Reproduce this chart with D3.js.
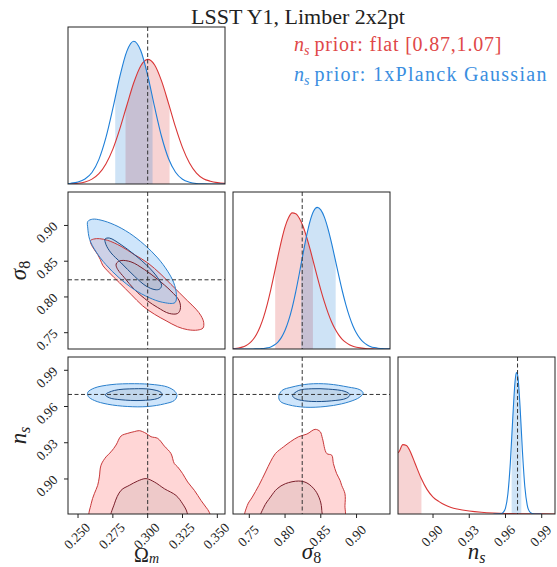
<!DOCTYPE html>
<html>
<head>
<meta charset="utf-8">
<script src="https://cdn.jsdelivr.net/npm/d3@7"></script>
<style>
  body { margin: 0; background: #fff; }
  text { font-family: "Liberation Serif", "DejaVu Serif", serif; fill: #222; }
</style>
</head>
<body>
<svg id="fig" width="557" height="567"></svg>
<script>
// ---- data ----
const omDomain = [0.2428, 0.3555];
const s8Domain = [0.7272, 0.9468];
const nsDomain = [0.871, 1.001];
const truthOm = 0.300, truthS8 = 0.824, truthNs = 0.970;

const omTicks = [0.250, 0.275, 0.300, 0.325, 0.350];
const s8Ticks = [0.75, 0.80, 0.85, 0.90];
const nsTicks = [0.90, 0.93, 0.96, 0.99];

// 1D marginals (arbitrary density units)
const omX = [0.240, 0.245, 0.250, 0.255, 0.260, 0.265, 0.270, 0.275, 0.280, 0.285, 0.290, 0.295,
             0.300, 0.305, 0.310, 0.315, 0.320, 0.325, 0.330, 0.335, 0.340, 0.345, 0.350, 0.355, 0.360];
const omRed = [0.001, 0.002, 0.005, 0.013, 0.031, 0.066, 0.128, 0.222, 0.351, 0.500, 0.645, 0.752,
               0.794, 0.758, 0.655, 0.512, 0.362, 0.232, 0.134, 0.070, 0.034, 0.018, 0.009, 0.004, 0.002];
const omBlue = [0.002, 0.005, 0.013, 0.032, 0.073, 0.157, 0.295, 0.481, 0.684, 0.845, 0.909, 0.850,
                0.692, 0.489, 0.301, 0.161, 0.075, 0.030, 0.011, 0.003, 0.001, 0, 0, 0, 0];
const omBandRed = [0.2841, 0.3157];
const omBandBlue = [0.2767, 0.3035];

const s8X = [0.725, 0.730, 0.735, 0.740, 0.745, 0.750, 0.755, 0.760, 0.765, 0.770, 0.775, 0.780,
             0.785, 0.790, 0.795, 0.800, 0.805, 0.810, 0.815, 0.820, 0.825, 0.830, 0.835, 0.840,
             0.845, 0.850, 0.855, 0.860, 0.865, 0.870, 0.875, 0.880, 0.885, 0.890, 0.895, 0.900,
             0.905, 0.910, 0.915, 0.920, 0.925, 0.930, 0.935, 0.940, 0.945, 0.950];
const s8Red = [0.002, 0.003, 0.006, 0.012, 0.021, 0.036, 0.059, 0.093, 0.140, 0.203, 0.283, 0.377,
               0.481, 0.589, 0.691, 0.778, 0.838, 0.867, 0.862, 0.833, 0.783, 0.715, 0.636, 0.549,
               0.461, 0.377, 0.300, 0.232, 0.174, 0.127, 0.090, 0.062, 0.042, 0.027, 0.017, 0.011,
               0.007, 0.004, 0.002, 0.001, 0, 0, 0, 0, 0, 0];
const s8Blue = [0, 0, 0, 0, 0, 0, 0, 0.001, 0.002, 0.003, 0.007, 0.013,
                0.025, 0.044, 0.074, 0.119, 0.182, 0.264, 0.366, 0.481, 0.603, 0.719, 0.815, 0.879,
                0.902, 0.886, 0.840, 0.767, 0.676, 0.574, 0.470, 0.371, 0.283, 0.208, 0.147, 0.100,
                0.066, 0.042, 0.026, 0.015, 0.009, 0.005, 0.003, 0.001, 0.001, 0];
const s8BandRed = [0.7862, 0.8390];
const s8BandBlue = [0.8226, 0.8708];

const nsXRed = [0.871, 0.872, 0.875, 0.878, 0.881, 0.885, 0.890, 0.895, 0.900, 0.905, 0.910,
                0.915, 0.920, 0.930, 0.940, 0.950, 0.960, 0.970, 0.980, 0.990, 1.001];
const nsRed = [0.390, 0.399, 0.442, 0.437, 0.400, 0.325, 0.231, 0.157, 0.108, 0.079, 0.057,
               0.042, 0.032, 0.019, 0.011, 0.006, 0.003, 0.002, 0.001, 0.0005, 0.0003];
const nsXBlue = [0.950, 0.956, 0.958, 0.960, 0.962, 0.964, 0.966, 0.968, 0.969, 0.970, 0.972,
                 0.974, 0.976, 0.978, 0.980, 0.982, 0.984, 0.990];
const nsBlue = [0, 0.001, 0.009, 0.038, 0.129, 0.324, 0.607, 0.850, 0.901, 0.888, 0.693,
                0.404, 0.175, 0.057, 0.014, 0.003, 0, 0];
const nsBandRed = [0.871, 0.8904];
const nsBandBlue = [0.9651, 0.9731];

// 2D contours [x, y]
const omS8BlueOuter = [[0.2570, 0.9056], [0.2605, 0.9088], [0.2665, 0.9074], [0.2761, 0.9009], [0.2868, 0.8894],
  [0.2976, 0.8731], [0.3072, 0.8546], [0.3143, 0.8361], [0.3187, 0.8199], [0.3206, 0.8037], [0.3196, 0.7921],
  [0.3105, 0.7926], [0.3010, 0.7991], [0.2902, 0.8106], [0.2794, 0.8269], [0.2699, 0.8454], [0.2627, 0.8639],
  [0.2584, 0.8801], [0.2570, 0.8963]];
const omS8BlueInner = [[0.2694, 0.8810], [0.2725, 0.8824], [0.2809, 0.8731], [0.2904, 0.8593], [0.3000, 0.8431],
  [0.3072, 0.8269], [0.3100, 0.8162], [0.3086, 0.8111], [0.3053, 0.8102], [0.2988, 0.8153], [0.2904, 0.8292],
  [0.2809, 0.8477], [0.2737, 0.8616], [0.2701, 0.8731]];
const omS8RedOuter = [[0.2589, 0.8787], [0.2613, 0.8810], [0.2653, 0.8815], [0.2713, 0.8792], [0.2809, 0.8708],
  [0.2904, 0.8593], [0.3000, 0.8477], [0.3096, 0.8315], [0.3167, 0.8176], [0.3227, 0.8060], [0.3287, 0.7944],
  [0.3347, 0.7829], [0.3383, 0.7736], [0.3402, 0.7644], [0.3397, 0.7565], [0.3359, 0.7537], [0.3287, 0.7542],
  [0.3215, 0.7583], [0.3132, 0.7667], [0.3048, 0.7759], [0.2964, 0.7875], [0.2880, 0.8037], [0.2797, 0.8199],
  [0.2725, 0.8338], [0.2677, 0.8444], [0.2660, 0.8523], [0.2641, 0.8593], [0.2617, 0.8662], [0.2598, 0.8722]];
const omS8RedInner = [[0.2778, 0.8477], [0.2809, 0.8509], [0.2880, 0.8491], [0.2976, 0.8384], [0.3072, 0.8245],
  [0.3167, 0.8083], [0.3227, 0.7944], [0.3234, 0.7829], [0.3215, 0.7769], [0.3155, 0.7769], [0.3072, 0.7852],
  [0.3000, 0.7944], [0.2904, 0.8106], [0.2833, 0.8269], [0.2785, 0.8384], [0.2773, 0.8444]];

const omNsBlueOuter = [[0.2570, 0.9717], [0.2617, 0.9753], [0.2737, 0.9781], [0.2904, 0.9789], [0.3048, 0.9781],
  [0.3143, 0.9761], [0.3196, 0.9725], [0.3210, 0.9689], [0.3191, 0.9650], [0.3120, 0.9622], [0.3000, 0.9600],
  [0.2857, 0.9600], [0.2713, 0.9619], [0.2617, 0.9650], [0.2574, 0.9683]];
const omNsBlueInner = [[0.2696, 0.9697], [0.2761, 0.9733], [0.2904, 0.9747], [0.3024, 0.9742], [0.3096, 0.9717],
  [0.3103, 0.9694], [0.3072, 0.9667], [0.2952, 0.9650], [0.2809, 0.9656], [0.2725, 0.9672]];
const omNsRedOuter = [[0.2589, 0.8660], [0.2594, 0.8794], [0.2617, 0.8878], [0.2641, 0.8947], [0.2653, 0.9017],
  [0.2665, 0.9114], [0.2701, 0.9183], [0.2737, 0.9225], [0.2773, 0.9281], [0.2809, 0.9356], [0.2857, 0.9378],
  [0.2904, 0.9392], [0.2940, 0.9400], [0.2988, 0.9378], [0.3024, 0.9350], [0.3072, 0.9336], [0.3120, 0.9272],
  [0.3167, 0.9211], [0.3191, 0.9128], [0.3215, 0.9100], [0.3251, 0.9044], [0.3287, 0.8975], [0.3335, 0.8906],
  [0.3383, 0.8822], [0.3418, 0.8767], [0.3442, 0.8725], [0.3450, 0.8660]];
const omNsRedInner = [[0.2742, 0.8660], [0.2761, 0.8794], [0.2809, 0.8906], [0.2868, 0.8947], [0.2928, 0.8983],
  [0.2988, 0.9003], [0.3048, 0.8975], [0.3120, 0.8919], [0.3203, 0.8864], [0.3251, 0.8794], [0.3282, 0.8725],
  [0.3282, 0.8660]];

const s8NsBlueOuter = [[0.7912, 0.9683], [0.7958, 0.9733], [0.8097, 0.9761], [0.8329, 0.9786], [0.8606, 0.9786],
  [0.8884, 0.9761], [0.9046, 0.9739], [0.9093, 0.9711], [0.9046, 0.9678], [0.8977, 0.9656], [0.8792, 0.9622],
  [0.8560, 0.9600], [0.8282, 0.9594], [0.8051, 0.9614], [0.7935, 0.9642]];
const s8NsBlueInner = [[0.8106, 0.9692], [0.8190, 0.9733], [0.8375, 0.9747], [0.8606, 0.9744], [0.8838, 0.9725],
  [0.8907, 0.9697], [0.8861, 0.9669], [0.8653, 0.9647], [0.8375, 0.9642], [0.8190, 0.9656], [0.8120, 0.9675]];
const s8NsRedOuter = [[0.7449, 0.8660], [0.7472, 0.8781], [0.7542, 0.8850], [0.7634, 0.8947], [0.7727, 0.9058],
  [0.7796, 0.9142], [0.7866, 0.9211], [0.7981, 0.9267], [0.8074, 0.9308], [0.8190, 0.9350], [0.8306, 0.9372],
  [0.8421, 0.9411], [0.8491, 0.9392], [0.8523, 0.9336], [0.8583, 0.9211], [0.8653, 0.9197], [0.8676, 0.9128],
  [0.8722, 0.9044], [0.8769, 0.8989], [0.8792, 0.8947], [0.8838, 0.8878], [0.8838, 0.8781], [0.8815, 0.8660]];
const s8NsRedInner = [[0.7657, 0.8660], [0.7704, 0.8767], [0.7796, 0.8850], [0.7889, 0.8919], [0.8005, 0.8961],
  [0.8190, 0.8983], [0.8306, 0.8967], [0.8421, 0.8906], [0.8491, 0.8822], [0.8514, 0.8739], [0.8505, 0.8660]];

// ---- styles ----
const red = "#d93636", blue = "#1e7fd8";
const redEdge = "#c8383a", redEdgeIn = "#7a1f2b";
const blueEdge = "#2b80cc", blueEdgeIn = "#1b4f8a";

const svg = d3.select("#fig");
const size = 157;
const colX = [68, 233, 398];
const rowY = [27, 192, 357];

const xOm = d3.scaleLinear().domain(omDomain).range([colX[0], colX[0] + size]);
const xS8 = d3.scaleLinear().domain(s8Domain).range([colX[1], colX[1] + size]);
const xNs = d3.scaleLinear().domain(nsDomain).range([colX[2], colX[2] + size]);
const yS8 = d3.scaleLinear().domain(s8Domain).range([rowY[1] + size, rowY[1]]);
const yNs = d3.scaleLinear().domain(nsDomain).range([rowY[2] + size, rowY[2]]);

const defs = svg.append("defs");
let clipCount = 0;
function clipRect(x, y, w, h) {
    const id = "c" + (clipCount++);
    defs.append("clipPath").attr("id", id).append("rect")
        .attr("x", x).attr("y", y).attr("width", w).attr("height", h);
    return `url(#${id})`;
}

function panel(c, r) {
    const g = svg.append("g");
    const inner = g.append("g").attr("clip-path", clipRect(colX[c], rowY[r], size, size));
    return { g, inner, c, r };
}

function frame(p) {
    p.g.append("rect")
        .attr("x", colX[p.c]).attr("y", rowY[p.r])
        .attr("width", size).attr("height", size)
        .attr("fill", "none").attr("stroke", "#222").attr("stroke-width", 1);
}

function dashV(p, x) {
    p.inner.append("line").attr("x1", x).attr("x2", x)
        .attr("y1", rowY[p.r]).attr("y2", rowY[p.r] + size)
        .attr("stroke", "#333").attr("stroke-width", 1).attr("stroke-dasharray", "4,2.5");
}
function dashH(p, y) {
    p.inner.append("line").attr("y1", y).attr("y2", y)
        .attr("x1", colX[p.c]).attr("x2", colX[p.c] + size)
        .attr("stroke", "#333").attr("stroke-width", 1).attr("stroke-dasharray", "4,2.5");
}

function marginal(c, r, xScale, series, truth) {
    const p = panel(c, r);
    const y = d3.scaleLinear().domain([0, 1]).range([rowY[r] + size, rowY[r]]);
    series.forEach(s => {
        const area = d3.area()
            .x((d, i) => xScale(s.xs[i]))
            .y0(y(0)).y1(d => y(d))
            .curve(d3.curveMonotoneX);
        p.inner.append("path")
            .datum(s.ys)
            .attr("clip-path", clipRect(xScale(s.band[0]), rowY[r], xScale(s.band[1]) - xScale(s.band[0]), size))
            .attr("d", area)
            .attr("fill", s.color).attr("fill-opacity", 0.22);
    });
    series.forEach(s => {
        const line = d3.line()
            .x((d, i) => xScale(s.xs[i]))
            .y(d => y(d))
            .curve(d3.curveMonotoneX);
        p.inner.append("path")
            .datum(s.ys)
            .attr("d", line)
            .attr("fill", "none").attr("stroke", s.color).attr("stroke-width", 1.1);
    });
    dashV(p, xScale(truth));
    frame(p);
}

function contours(c, r, xScale, yScale, chains, tx, ty) {
    const p = panel(c, r);
    const line = d3.line()
        .x(d => xScale(d[0])).y(d => yScale(d[1]))
        .curve(d3.curveCatmullRomClosed.alpha(0.5));
    chains.forEach(ch => {
        p.inner.append("path").attr("d", line(ch.outer))
            .attr("fill", ch.fill).attr("fill-opacity", 0.5);
        p.inner.append("path").attr("d", line(ch.inner))
            .attr("fill", ch.fillIn).attr("fill-opacity", 0.15);
    });
    chains.forEach(ch => {
        p.inner.append("path").attr("d", line(ch.outer))
            .attr("fill", "none").attr("stroke", ch.edge).attr("stroke-width", 1);
        p.inner.append("path").attr("d", line(ch.inner))
            .attr("fill", "none").attr("stroke", ch.edgeIn).attr("stroke-width", 1);
    });
    dashV(p, xScale(tx));
    dashH(p, yScale(ty));
    frame(p);
}

const redStyle = { fill: "#ffaeae", fillIn: "#8a7f80", edge: redEdge, edgeIn: redEdgeIn };
const blueStyle = { fill: "#9dcbf7", fillIn: "#6f8295", edge: blueEdge, edgeIn: blueEdgeIn };

// diagonal
marginal(0, 0, xOm, [
    { xs: omX, ys: omRed, band: omBandRed, color: red },
    { xs: omX, ys: omBlue, band: omBandBlue, color: blue }
], truthOm);
marginal(1, 1, xS8, [
    { xs: s8X, ys: s8Red, band: s8BandRed, color: red },
    { xs: s8X, ys: s8Blue, band: s8BandBlue, color: blue }
], truthS8);
marginal(2, 2, xNs, [
    { xs: nsXRed, ys: nsRed, band: nsBandRed, color: red },
    { xs: nsXBlue, ys: nsBlue, band: nsBandBlue, color: blue }
], truthNs);

// off-diagonal
contours(0, 1, xOm, yS8, [
    Object.assign({ outer: omS8RedOuter, inner: omS8RedInner }, redStyle),
    Object.assign({ outer: omS8BlueOuter, inner: omS8BlueInner }, blueStyle)
], truthOm, truthS8);
contours(0, 2, xOm, yNs, [
    Object.assign({ outer: omNsRedOuter, inner: omNsRedInner }, redStyle),
    Object.assign({ outer: omNsBlueOuter, inner: omNsBlueInner }, blueStyle)
], truthOm, truthNs);
contours(1, 2, xS8, yNs, [
    Object.assign({ outer: s8NsRedOuter, inner: s8NsRedInner }, redStyle),
    Object.assign({ outer: s8NsBlueOuter, inner: s8NsBlueInner }, blueStyle)
], truthS8, truthNs);

// ---- ticks ----
const tickSize = 4;
const bottom = rowY[2] + size;
function xTicks(scale, ticks, fmt) {
    ticks.forEach(t => {
        const x = scale(t);
        svg.append("line").attr("x1", x).attr("x2", x).attr("y1", bottom).attr("y2", bottom + tickSize)
            .attr("stroke", "#222");
        svg.append("text")
            .attr("transform", `translate(${x - 1},${bottom + 22}) rotate(-45)`)
            .attr("text-anchor", "middle").attr("dominant-baseline", "central")
            .style("font-size", "13.5px")
            .text(d3.format(fmt)(t));
    });
}
function yTicks(scale, ticks, fmt) {
    ticks.forEach(t => {
        const y = scale(t);
        svg.append("line").attr("x1", colX[0] - tickSize).attr("x2", colX[0]).attr("y1", y).attr("y2", y)
            .attr("stroke", "#222");
        svg.append("text")
            .attr("transform", `translate(47,${y + 7}) rotate(-45)`)
            .attr("text-anchor", "middle").attr("dominant-baseline", "central")
            .style("font-size", "13.5px")
            .text(d3.format(fmt)(t));
    });
}
xTicks(xOm, omTicks, ".3f");
xTicks(xS8, s8Ticks, ".2f");
xTicks(xNs, nsTicks, ".2f");
yTicks(yS8, s8Ticks, ".2f");
yTicks(yNs, nsTicks, ".2f");

// ---- axis labels ----
function mathLabel(transform, main, sub, mainItalic, subItalic, subDy, fs) {
    const t = svg.append("text").attr("transform", transform)
        .attr("text-anchor", "middle").style("font-size", fs + "px");
    t.append("tspan").style("font-style", mainItalic ? "italic" : "normal").text(main);
    t.append("tspan").attr("dy", subDy).style("font-size", Math.round(fs * 0.7) + "px")
        .style("font-style", subItalic ? "italic" : "normal").text(sub);
}
mathLabel(`translate(26,${rowY[1] + size / 2}) rotate(-90)`, "σ", "8", true, false, 4, 23);
mathLabel(`translate(26,${rowY[2] + size / 2}) rotate(-90)`, "n", "s", true, true, 4, 23);
mathLabel(`translate(${colX[0] + size / 2},562)`, "Ω", "m", false, true, 1, 20);
mathLabel(`translate(${colX[1] + size / 2},559)`, "σ", "8", true, false, 4, 23);
mathLabel(`translate(${colX[2] + size / 2},559)`, "n", "s", true, true, 4, 23);

// ---- title and legend ----
svg.append("text").attr("x", 298).attr("y", 24).attr("text-anchor", "middle")
    .style("font-size", "22px").text("LSST Y1, Limber 2x2pt");

function legendRow(y, color, rest, width) {
    const t = svg.append("text").attr("x", 294).attr("y", y).style("font-size", "20px").style("fill", color);
    t.append("tspan").style("font-style", "italic").text("n");
    t.append("tspan").attr("dy", 4).style("font-size", "14px").style("font-style", "italic").text("s");
    t.append("tspan").attr("dy", -4).attr("dx", 5)
        .attr("textLength", width).attr("lengthAdjust", "spacing").text(rest);
}
legendRow(51, "#e04848", "prior: flat [0.87,1.07]", 187);
legendRow(81, "#3a8ee0", "prior: 1xPlanck Gaussian", 232);
</script>
</body>
</html>
